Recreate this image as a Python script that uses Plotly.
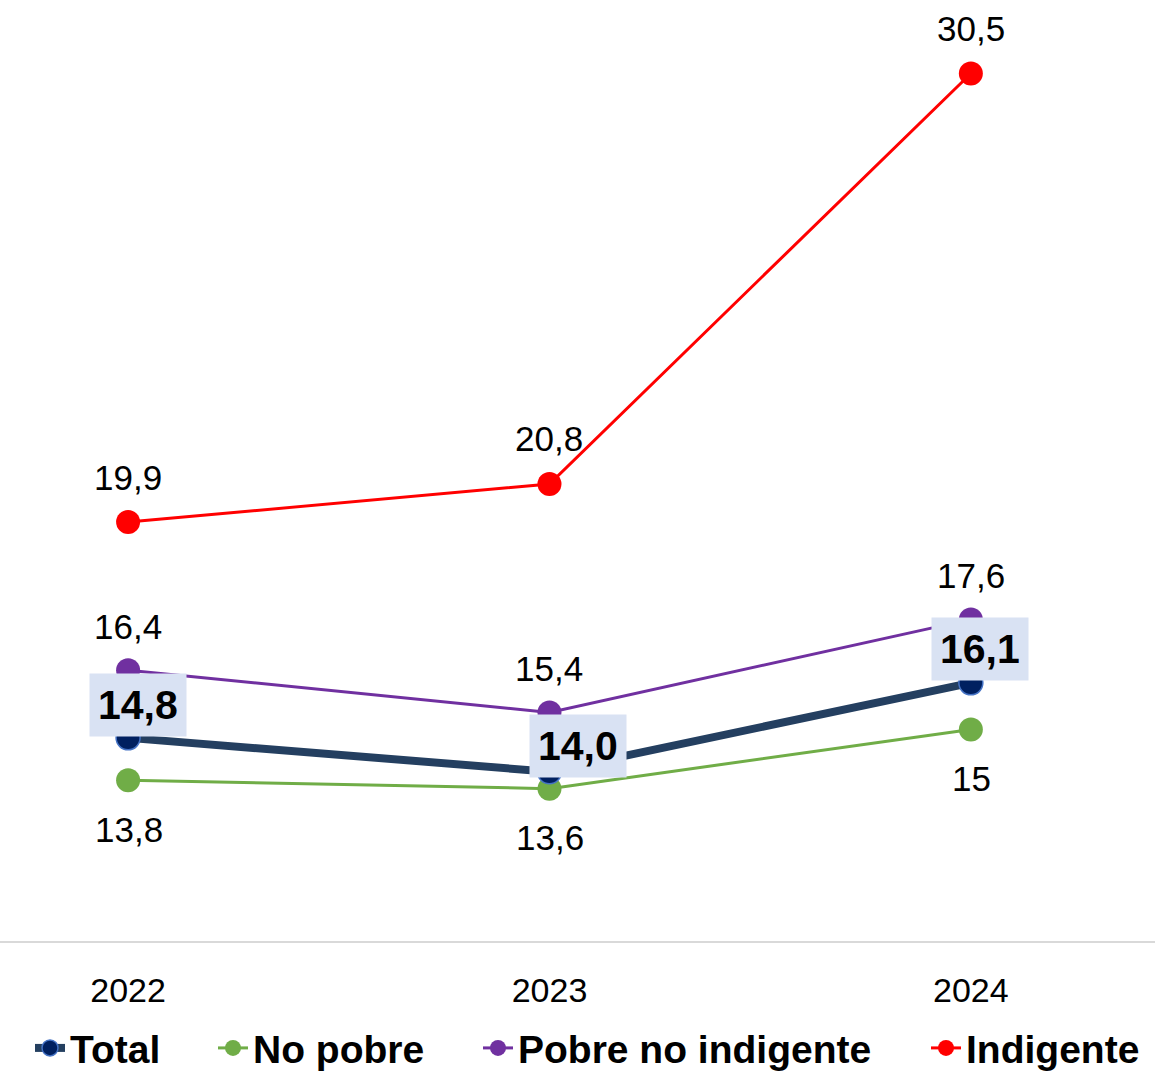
import plotly.graph_objects as go

years = ["2022", "2023", "2024"]
total = [14.8, 14.0, 16.1]
no_pobre = [13.8, 13.6, 15.0]
pobre_no_indigente = [16.4, 15.4, 17.6]
indigente = [19.9, 20.8, 30.5]

FONT = "Liberation Sans"
W, H = 1155, 1073
xpos = list(range(len(years)))

fig = go.Figure()

# name, values, line color, line width, marker color, marker line color, marker line width, legend id, legend text start px
series = [
    ("Indigente", indigente, "#FF0000", 3, "#FF0000", "#FF0000", 0, "legend4", 968),
    ("Pobre no indigente", pobre_no_indigente, "#7030A0", 3, "#7030A0", "#7030A0", 0, "legend3", 520),
    ("No pobre", no_pobre, "#70AD47", 3, "#70AD47", "#70AD47", 0, "legend2", 255),
    ("Total", total, "#243F60", 8, "#002060", "#4472C4", 1.5, "legend", 72),
]

legends = {}
for name, vals, lc, lw, mc, mlc, mlw, lg, tx in series:
    fig.add_trace(go.Scatter(
        x=xpos, y=vals, name=name, mode="lines+markers",
        line=dict(color=lc, width=lw),
        marker=dict(size=24, color=mc, line=dict(color=mlc, width=mlw)),
        hoverinfo="skip", legend=lg,
    ))
    legends[lg] = dict(orientation="h", x=(tx - 42) / W, xanchor="left",
                       y=-0.1150, yanchor="middle",
                       font=dict(family=FONT, size=39, color="#000000", weight="bold"),
                       bgcolor="rgba(0,0,0,0)", borderwidth=0)

def fmt1(v):
    return f"{v:.1f}".replace(".", ",")

def fmtg(v):
    return f"{v:g}".replace(".", ",")

ann = []
for x, v in zip(xpos, indigente):
    ann.append(dict(x=x, y=v, text=fmt1(v), yshift=45, xshift=0))
for x, v in zip(xpos, pobre_no_indigente):
    ann.append(dict(x=x, y=v, text=fmt1(v), yshift=44, xshift=0))
for x, v in zip(xpos, no_pobre):
    ann.append(dict(x=x, y=v, text=fmtg(v), yshift=-49, xshift=1))
for a in ann:
    a.update(showarrow=False, xref="x", yref="y",
             font=dict(family=FONT, size=35, color="#000000"))

tot_shifts = [(10, 33), (29, 26), (9, 34)]
for (x, v), (dx, dy) in zip(zip(xpos, total), tot_shifts):
    ann.append(dict(x=x, y=v, xref="x", yref="y", text="<b>" + fmt1(v) + "</b>",
                    xshift=dx, yshift=dy,
                    showarrow=False, bgcolor="#D9E2F3", borderpad=8,
                    font=dict(family=FONT, size=41, color="#000000")))

fig.update_layout(
    width=W, height=H,
    margin=dict(l=0, r=0, t=10, b=132, autoexpand=False),
    paper_bgcolor="white", plot_bgcolor="white",
    annotations=ann,
    showlegend=True,
    xaxis=dict(range=[-0.304, 2.437], showgrid=False, zeroline=False,
               tickmode="array", tickvals=xpos, ticktext=years,
               showline=True, linecolor="#D9D9D9", linewidth=2,
               ticks="", ticklabelstandoff=18,
               tickfont=dict(family=FONT, size=34, color="#000000"), fixedrange=True),
    yaxis=dict(range=[10, 32], showgrid=False, showline=False, zeroline=False,
               showticklabels=False, ticks="", fixedrange=True),
    **legends,
)

fig.write_html("out.html", config={"displayModeBar": False},
               post_script="document.body.style.margin='0';document.body.style.overflow='hidden';")
